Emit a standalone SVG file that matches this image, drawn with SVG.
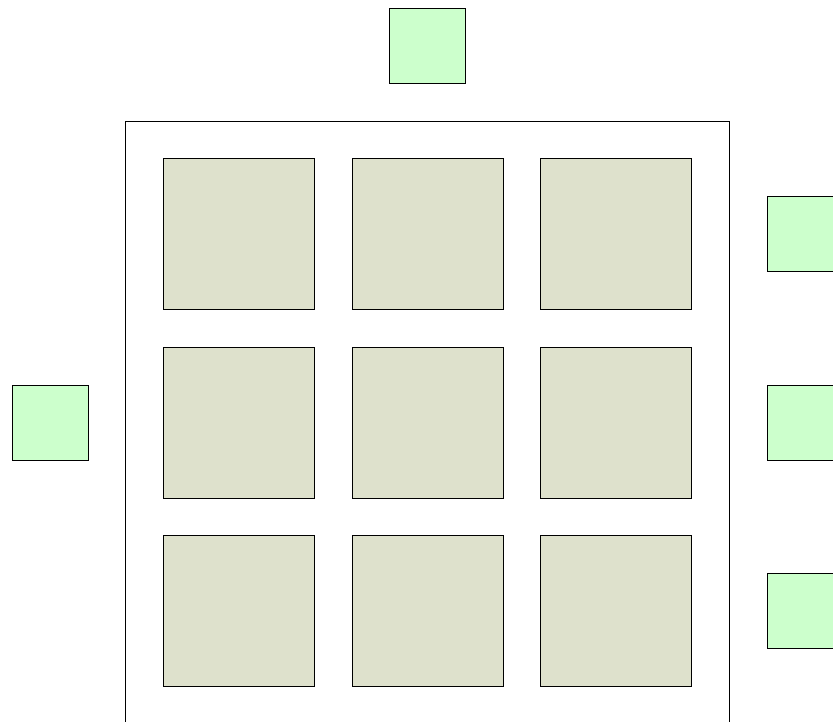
<svg xmlns="http://www.w3.org/2000/svg" width="833" height="722" viewBox="0 0 833 722">
<style>
.outer{fill:#ffffff;stroke:#000000;stroke-width:1}
.cell{fill:#dee1cc;stroke:#000000;stroke-width:1}
.port{fill:#ccffcc;stroke:#000000;stroke-width:1}
</style>
<rect x="0" y="0" width="833" height="722" fill="#ffffff"/>
<g id="container"><rect class="outer" x="125.5" y="121.5" width="604" height="640"/></g>
<g id="cell-1-1"><rect class="cell" x="163.5" y="158.5" width="151" height="151"/></g>
<g id="cell-1-2"><rect class="cell" x="352.5" y="158.5" width="151" height="151"/></g>
<g id="cell-1-3"><rect class="cell" x="540.5" y="158.5" width="151" height="151"/></g>
<g id="cell-2-1"><rect class="cell" x="163.5" y="347.5" width="151" height="151"/></g>
<g id="cell-2-2"><rect class="cell" x="352.5" y="347.5" width="151" height="151"/></g>
<g id="cell-2-3"><rect class="cell" x="540.5" y="347.5" width="151" height="151"/></g>
<g id="cell-3-1"><rect class="cell" x="163.5" y="535.5" width="151" height="151"/></g>
<g id="cell-3-2"><rect class="cell" x="352.5" y="535.5" width="151" height="151"/></g>
<g id="cell-3-3"><rect class="cell" x="540.5" y="535.5" width="151" height="151"/></g>
<g id="port-top"><rect class="port" x="389.5" y="8.5" width="76" height="75"/></g>
<g id="port-left"><rect class="port" x="12.5" y="385.5" width="76" height="75"/></g>
<g id="port-right-1"><rect class="port" x="767.5" y="196.5" width="76" height="75"/></g>
<g id="port-right-2"><rect class="port" x="767.5" y="385.5" width="76" height="75"/></g>
<g id="port-right-3"><rect class="port" x="767.5" y="573.5" width="76" height="75"/></g>
<g id="connectors"></g>
</svg>
